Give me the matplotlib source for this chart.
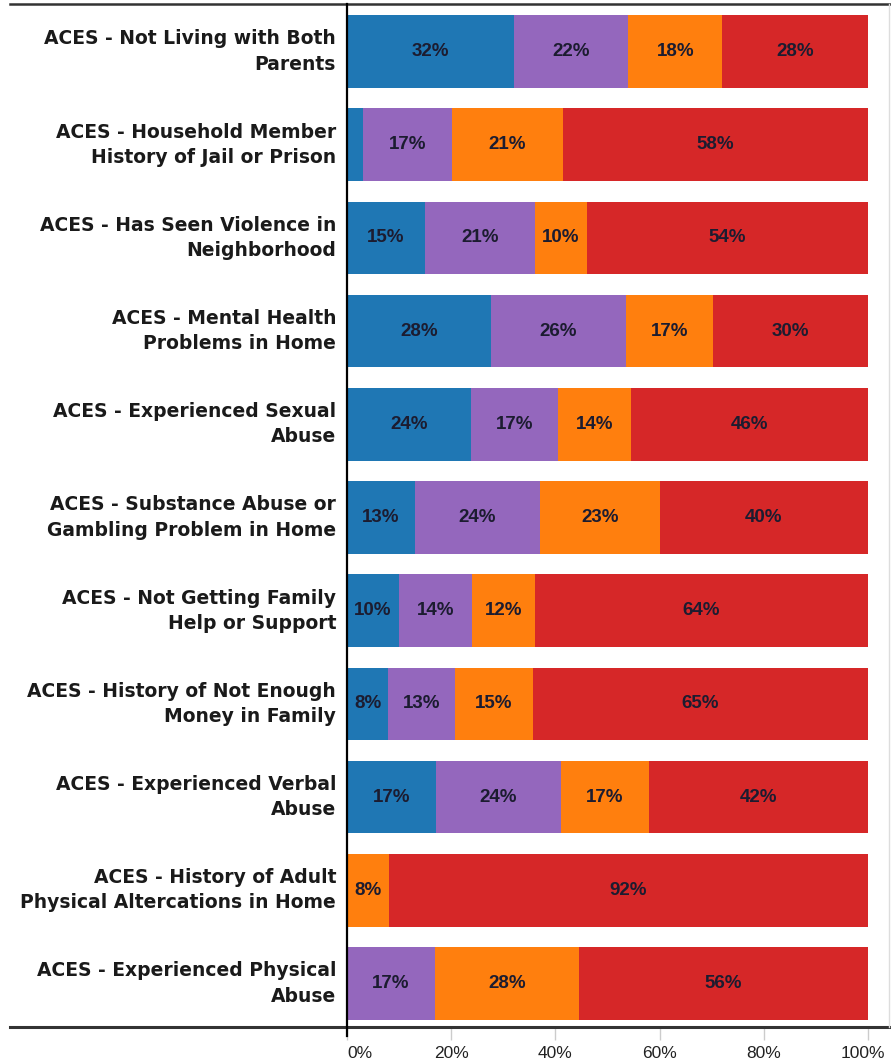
import numpy as np
import matplotlib.pyplot as plt
from matplotlib.lines import Line2D
from matplotlib.transforms import ScaledTranslation

categories = [
    "ACES - Not Living with Both\nParents",
    "ACES - Household Member\nHistory of Jail or Prison",
    "ACES - Has Seen Violence in\nNeighborhood",
    "ACES - Mental Health\nProblems in Home",
    "ACES - Experienced Sexual\nAbuse",
    "ACES - Substance Abuse or\nGambling Problem in Home",
    "ACES - Not Getting Family\nHelp or Support",
    "ACES - History of Not Enough\nMoney in Family",
    "ACES - Experienced Verbal\nAbuse",
    "ACES - History of Adult\nPhysical Altercations in Home",
    "ACES - Experienced Physical\nAbuse",
]

# percent of respondents per response group (blue, purple, orange, red)
blue = [32, 3, 15, 28, 24, 13, 10, 8, 17, 0, 0]
purple = [22, 17, 21, 26, 17, 24, 14, 13, 24, 0, 17]
orange = [18, 21, 10, 17, 14, 23, 12, 15, 17, 8, 28]
red = [28, 58, 54, 30, 46, 40, 64, 65, 42, 92, 56]

series = [blue, purple, orange, red]
colors = ["#1f77b4", "#9467bd", "#ff7f0e", "#d62728"]
xticks = [0, 20, 40, 60, 80, 100]

plt.rcParams['font.family'] = ['Liberation Sans', 'DejaVu Sans']

fig = plt.figure(figsize=(8.91, 10.61), dpi=100)
ax = fig.add_axes([347 / 891, 1 - 1027 / 1061, 521 / 891, 1023 / 1061])

data = np.array(series, dtype=float)
shares = data / data.sum(axis=0) * 100
y = np.arange(len(categories))
left = np.zeros(len(categories))
for vals, shr, col in zip(series, shares, colors):
    ax.barh(y, shr, left=left, height=0.78, color=col, edgecolor='none')
    for i, (v, s) in enumerate(zip(vals, shr)):
        if v >= 5:
            ax.text(left[i] + s / 2, y[i], f"{v}%", ha='center', va='center',
                    fontsize=13.5, fontweight='bold', color='#1c1c30')
    left += shr

ax.set_xlim(0, 100)
ax.set_ylim(10.467, -0.51)
ax.set_yticks([])
ax.set_xticks(xticks)
ax.set_xticklabels([f"{t}%" for t in xticks], fontsize=12.5, color='#222222')
ax.tick_params(axis='x', length=9, width=1, color='#cccccc', pad=5)
labels = ax.get_xticklabels()
labels[0].set_horizontalalignment('left')
labels[-1].set_transform(labels[-1].get_transform()
                         + ScaledTranslation(-0.05, 0, fig.dpi_scale_trans))
for s in ax.spines.values():
    s.set_visible(False)

for i, cat in enumerate(categories):
    ax.text(-0.021, y[i], cat, transform=ax.get_yaxis_transform(), ha='right',
            va='center', fontsize=13.5, fontweight='bold', color='#1a1a1a',
            family='DejaVu Sans', linespacing=1.42)

# frame lines
fig.add_artist(Line2D([10 / 891, 1], [1 - 4 / 1061] * 2, color='#333333', lw=1.8))
fig.add_artist(Line2D([10 / 891, 1], [1 - 1027 / 1061] * 2, color='#333333', lw=2.2))
fig.add_artist(Line2D([347 / 891] * 2, [1 - 1036 / 1061, 1 - 4 / 1061], color='black', lw=1.6))
fig.add_artist(Line2D([889 / 891] * 2, [1 - 1027 / 1061, 1 - 4 / 1061], color='#dddddd', lw=1))

fig.savefig("out.png", dpi=100)
